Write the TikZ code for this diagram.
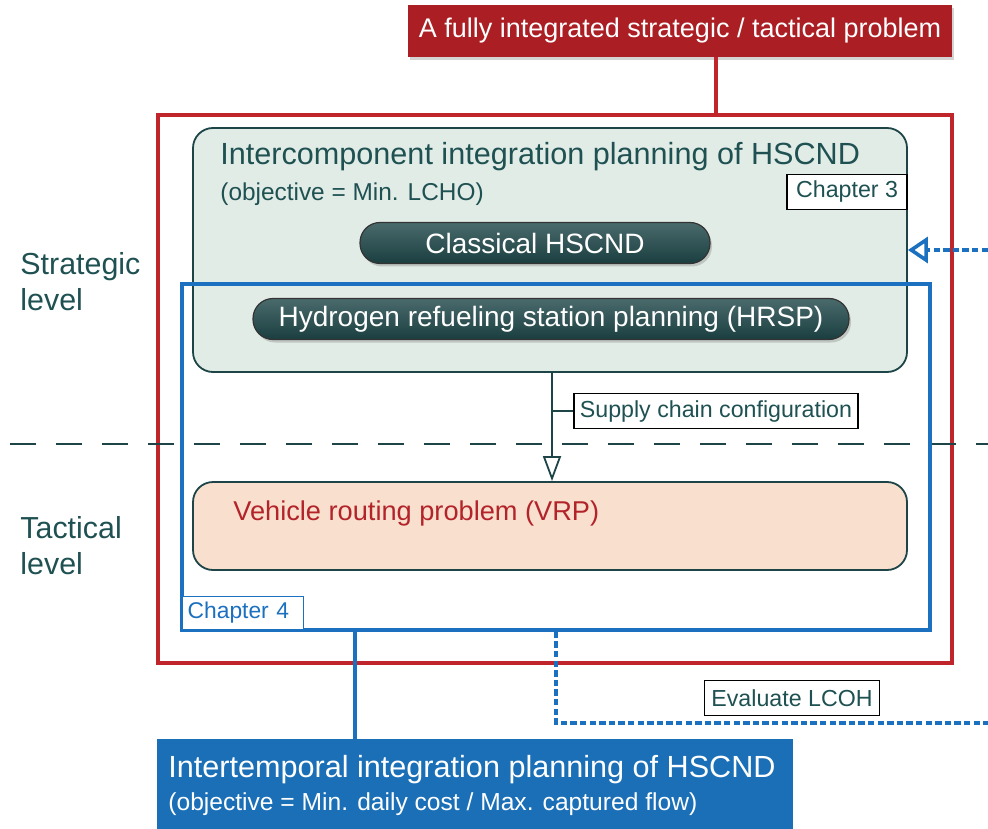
\documentclass[tikz,border=0pt]{standalone}
\usepackage{fontspec}
\setmainfont{Liberation Sans}
\usetikzlibrary{arrows.meta,shadows,positioning}

\definecolor{hteal}{HTML}{1D4547}
\definecolor{tealtext}{HTML}{1F5152}
\definecolor{interfill}{HTML}{E2ECE6}
\definecolor{vrpfill}{HTML}{F8DFCE}
\definecolor{hred}{HTML}{C1252C}
\definecolor{titlered}{HTML}{AB1E23}
\definecolor{vrpred}{HTML}{B3232A}
\definecolor{hblue}{HTML}{1B70BF}
\definecolor{botblue}{HTML}{1A6FB7}

\tikzset{
  stagebox/.style={draw=hteal, line width=0.9pt, rounded corners=10pt},
  pill/.style={draw=black!80, line width=0.6pt, rounded corners=10pt, top color=hteal!80!white, bottom color=hteal!90!black,
    text=white, font=\fontsize{14}{16}\selectfont, minimum height=20.5pt, inner sep=0pt,
    drop shadow={opacity=0.35, shadow xshift=1pt, shadow yshift=-1.5pt}},
  tagbox/.style={draw=black, line width=0.9pt, fill=white, text=tealtext, font=\fontsize{11.6}{13}\selectfont,
    inner xsep=3pt, inner ysep=0pt, minimum height=17.5pt},
  evalline/.style={hblue, line width=1.8pt, dash pattern=on 3.2pt off 1.6pt}
}

\begin{document}
\begin{tikzpicture}[x=0.5pt,y=-0.5pt]
  \useasboundingbox (0,0) rectangle (988,828);

  % title and outer frame
  \node[fill=titlered, text=white, minimum width=272pt, minimum height=26pt, inner sep=0pt,
    font=\fontsize{13.5}{15}\selectfont,
    drop shadow={opacity=0.35, shadow xshift=1pt, shadow yshift=-1.5pt}] (title) at (680,31) {\raisebox{-1pt}{A fully integrated strategic / tactical problem}};
  \node[draw=hred, line width=1.8pt, minimum width=397pt, minimum height=274pt] (outer) at (555,389) {};
  \coordinate (tap) at (716,0);
  \draw[hred, line width=1.8pt] (title.south -| tap) -- (outer.north -| tap);

  % level separator
  \draw[hteal, line width=1pt, dash pattern=on 13pt off 10pt] (10,444) -- (988,444);
  \node[anchor=base west, inner sep=0pt, text=tealtext, font=\fontsize{15.2}{18}\selectfont, align=left] (strat) at (20,310) {Strategic\\level};
  \node[anchor=base west, inner sep=0pt, text=tealtext, font=\fontsize{15.2}{18}\selectfont, align=left] (tact) at (20,574) {Tactical\\level};

  % strategic problem
  \node[stagebox, fill=interfill, minimum width=357pt, minimum height=122pt] (inter) at (550,250) {};
  \node[anchor=base west, inner sep=0pt, text=tealtext, font=\fontsize{15.3}{17}\selectfont] (intertitle) at (220,165) {Intercomponent integration planning of HSCND};
  \node[anchor=base west, inner sep=0pt, text=tealtext, font=\fontsize{12.2}{14}\selectfont] (interobj) at (220,201) {(objective = Min. LCHO)};
  \node[tagbox, minimum width=60pt, anchor=east] (chthree) at (908,192) {Chapter 3};
  \node[pill, minimum width=175pt] (classic) at (535,243) {Classical HSCND};
  \node[pill, minimum width=298pt] (hrsp) at (551,319) {Hydrogen refueling station planning (HRSP)};

  % tactical problem
  \node[stagebox, fill=vrpfill, minimum width=357pt, minimum height=44pt] (vrp) at (550,526) {};
  \node[anchor=base west, inner sep=0pt, text=vrpred, font=\fontsize{13.6}{15}\selectfont] (vrptext) at (233,520) {Vehicle routing problem (VRP)};

  % supply chain arrow
  \coordinate (sctap) at (552,0);
  \draw[hteal, line width=0.9pt, -{Triangle[open, length=12.5pt, width=9pt]}] (inter.south -| sctap) -- (vrp.north -| sctap);
  \node[tagbox, anchor=west] (supply) at (573,411) {Supply chain configuration};
  \draw[hteal, line width=0.9pt] (supply.west) -- (supply.west -| sctap);

  % chapter 4 frame
  \node[draw=hblue, line width=1.8pt, minimum width=374pt, minimum height=173pt] (chfour) at (556,457) {};
  \node[draw=hblue, line width=0.7pt, fill=white, text=hblue, font=\fontsize{11.4}{13}\selectfont,
    text width=55.5pt, align=left, minimum height=16.5pt, inner xsep=2.5pt, inner ysep=0pt, anchor=south west] (chfourtag) at (182,630) {Chapter 4};

  % intertemporal problem
  \node[fill=botblue, minimum width=318pt, minimum height=45pt, inner sep=0pt] (temporal) at (475,784) {};
  \node[anchor=base west, inner sep=0pt, text=white, font=\fontsize{15.3}{17}\selectfont] (temptitle) at (168,777) {Intertemporal integration planning of HSCND};
  \node[anchor=base west, inner sep=0pt, text=white, font=\fontsize{12.3}{14}\selectfont] (tempobj) at (168,810) {(objective = Min. daily cost / Max. captured flow)};
  \coordinate (btap) at (355,0);
  \draw[hblue, line width=1.8pt] (chfour.south -| btap) -- (temporal.north -| btap);

  % LCOH feedback
  \coordinate (fb1) at (556,723);
  \coordinate (fb2) at (988,723);
  \coordinate (fb3) at (988,250);
  \draw[evalline] (chfour.south -| fb1) -- (fb1) -- (fb2);
  \draw[evalline, -{Triangle[open, length=10pt, width=13pt, line width=1.8pt]}] (fb3) -- (inter.east |- fb3);
  \node[tagbox, minimum width=87.5pt] (lcoh) at (792,698) {Evaluate LCOH};
\end{tikzpicture}
\end{document}
